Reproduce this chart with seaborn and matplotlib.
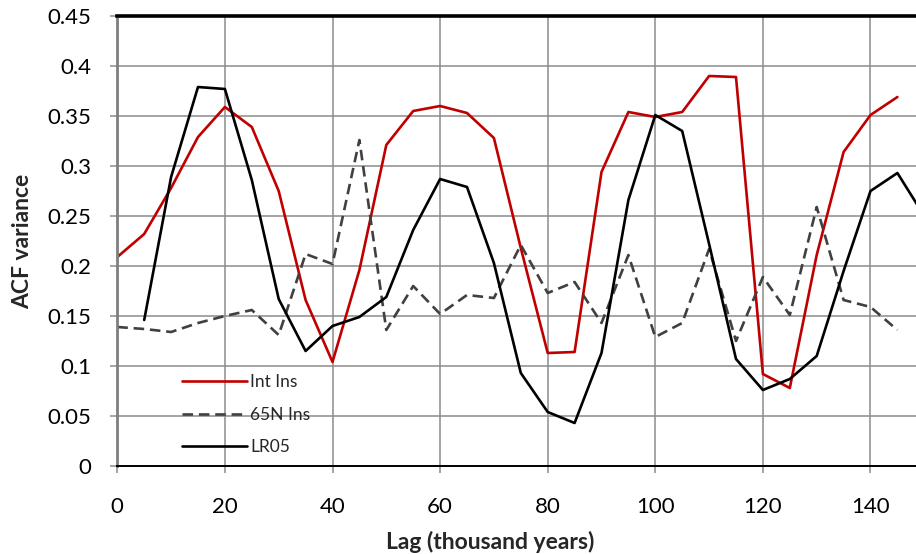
import matplotlib
matplotlib.use("Agg")
import matplotlib.pyplot as plt
import seaborn as sns
import pandas as pd
from matplotlib.ticker import FuncFormatter, MultipleLocator

lag = [0, 5, 10, 15, 20, 25, 30, 35, 40, 45, 50, 55, 60, 65, 70, 75, 80, 85, 90, 95,
       100, 105, 110, 115, 120, 125, 130, 135, 140, 145]
int_ins = [0.209, 0.232, 0.278, 0.329, 0.359, 0.339, 0.275, 0.166, 0.104, 0.196,
           0.321, 0.355, 0.360, 0.353, 0.328, 0.218, 0.113, 0.114, 0.294, 0.354,
           0.349, 0.354, 0.390, 0.389, 0.092, 0.078, 0.211, 0.314, 0.351, 0.369]
n65_ins = [0.139, 0.137, 0.134, 0.143, 0.150, 0.156, 0.131, 0.212, 0.202, 0.326,
           0.136, 0.180, 0.152, 0.171, 0.168, 0.221, 0.173, 0.184, 0.143, 0.211,
           0.129, 0.143, 0.217, 0.125, 0.189, 0.151, 0.259, 0.166, 0.159, 0.136]
lr05_lag = [5, 10, 15, 20, 25, 30, 35, 40, 45, 50, 55, 60, 65, 70, 75, 80, 85, 90, 95,
            100, 105, 110, 115, 120, 125, 130, 135, 140, 145, 150]
lr05 = [0.146, 0.289, 0.379, 0.377, 0.286, 0.167, 0.115, 0.140, 0.149, 0.169,
        0.236, 0.287, 0.279, 0.203, 0.093, 0.054, 0.043, 0.113, 0.266, 0.351,
        0.335, 0.222, 0.107, 0.076, 0.087, 0.110, 0.195, 0.275, 0.293, 0.250]

df_int = pd.DataFrame({"lag": lag, "acf": int_ins})
df_65n = pd.DataFrame({"lag": lag, "acf": n65_ins})
df_lr = pd.DataFrame({"lag": lr05_lag, "acf": lr05})

sns.set_theme(style="white")
plt.rcParams["font.family"] = ["Lato", "DejaVu Sans"]

fig = plt.figure(figsize=(9.16, 5.54), dpi=100)
ax_w = 807
ax = fig.add_axes([117.3 / 916, 88 / 554, ax_w / 916, 450 / 554])

sns.lineplot(data=df_int, x="lag", y="acf", ax=ax, color="#C00000", lw=1.9,
             label="Int Ins")
sns.lineplot(data=df_65n, x="lag", y="acf", ax=ax, color="#404040", lw=1.9,
             label="65N Ins", dashes=False)
ax.lines[-1].set_dashes([4, 2.2])
sns.lineplot(data=df_lr, x="lag", y="acf", ax=ax, color="black", lw=1.9,
             label="LR05")

ax.set_xlim(0, 150)
ax.set_ylim(0, 0.45)
ax.xaxis.set_major_locator(MultipleLocator(20))
ax.yaxis.set_major_locator(MultipleLocator(0.05))
ax.yaxis.set_major_formatter(FuncFormatter(lambda v, p: f"{round(v, 2):g}"))

ax.grid(True, color="#8c8c8c", lw=1.1)
ax.set_axisbelow(True)

for side in ["left", "bottom", "top"]:
    ax.spines[side].set_visible(True)
ax.spines["left"].set_color("#7f7f7f")
ax.spines["left"].set_linewidth(2.0)
ax.spines["bottom"].set_color("black")
ax.spines["bottom"].set_linewidth(1.4)
ax.spines["top"].set_color("black")
ax.spines["top"].set_linewidth(2.6)
ax.spines["right"].set_visible(False)

ax.tick_params(axis="both", which="major", length=5, width=1.1, color="#8c8c8c",
               direction="out", labelsize=16, labelcolor="black",
               bottom=True, left=True)
ax.tick_params(axis="x", pad=17)
ax.tick_params(axis="y", pad=14)

ax.set_xlabel("Lag (thousand years)", fontsize=16.5, fontweight="bold")
ax.set_ylabel("ACF variance", fontsize=16.5, fontweight="bold")
ax.xaxis.set_label_coords((490 - 117.3) / ax_w, -0.145)
ax.yaxis.set_label_coords((33 - 117.3) / ax_w, 0.5)

leg = ax.legend(loc="lower left", bbox_to_anchor=(0.072, 0.008), frameon=False,
                fontsize=12.5, handlelength=3.7, handletextpad=0.2,
                labelspacing=0.95, borderaxespad=0)

fig.savefig("out.png", dpi=100)
